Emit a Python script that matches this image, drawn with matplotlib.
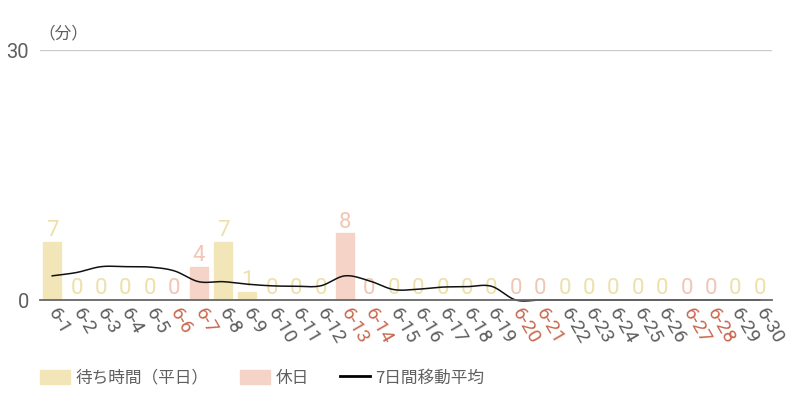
import numpy as np
import matplotlib
matplotlib.use("Agg")
import matplotlib.pyplot as plt
from matplotlib.patches import Patch
from matplotlib.lines import Line2D

# ---- data ----
days = [f"6-{d}" for d in range(1, 31)]
holidays = ["6-6", "6-7", "6-13", "6-14", "6-20", "6-21", "6-27", "6-28"]
wait_minutes = [7, 0, 0, 0, 0, 0, 4, 7, 1, 0, 0, 0, 8, 0, 0,
                0, 0, 0, 0, 0, 0, 0, 0, 0, 0, 0, 0, 0, 0, 0]
moving_avg = [2.9, 3.3, 4.0, 4.0, 3.95, 3.5, 2.2, 2.2, 1.9, 1.7, 1.65, 1.7, 2.9, 2.3, 1.25,
              1.3, 1.55, 1.6, 1.65, 0.0, 0.0, 0.0, 0.0, 0.0, 0.0, 0.0, 0.0, 0.0, 0.0, 0.0]
y_ticks = [0, 30]
legend_labels = ["待ち時間（平日）", "休日", "7日間移動平均"]

# ---- style ----
C_WEEK = "#F2E6B8"
C_HOL = "#F5D4C7"
C_WEEK_TXT = "#EEE0AA"
C_HOL_TXT = "#F0C6B5"
C_TICK = "#5f5f5f"
C_TICK_HOL = "#C8694F"
CJK = ["Noto Sans CJK JP", "DejaVu Sans"]

fig = plt.figure(figsize=(8, 4), dpi=100)
ax = fig.add_axes([40 / 800, 100 / 400, 732 / 800, 250 / 400])

x = np.arange(len(days))
is_hol = [d in holidays for d in days]
colors = [C_HOL if h else C_WEEK for h in is_hol]
ax.bar(x, wait_minutes, width=0.74, color=colors, edgecolor=colors,
       linewidth=1.0, zorder=2)

for xi, v, h in zip(x, wait_minutes, is_hol):
    ax.annotate(str(v), (xi, v), xytext=(0, 0.5), textcoords="offset points",
                ha="center", va="bottom", fontsize=16, family="Roboto",
                color=C_HOL_TXT if h else C_WEEK_TXT, zorder=3)

# smoothed moving-average line (Catmull-Rom through the data points)
def catmull_rom(xs, ys, n=24):
    xs = np.asarray(xs, float)
    ys = np.asarray(ys, float)
    m = np.zeros_like(ys)
    m[1:-1] = (ys[2:] - ys[:-2]) / 2.0
    m[0] = ys[1] - ys[0]
    m[-1] = ys[-1] - ys[-2]
    outx, outy = [], []
    for i in range(len(xs) - 1):
        t = np.linspace(0, 1, n, endpoint=False)
        h00 = 2 * t**3 - 3 * t**2 + 1
        h10 = t**3 - 2 * t**2 + t
        h01 = -2 * t**3 + 3 * t**2
        h11 = t**3 - t**2
        outx.append(xs[i] + t * (xs[i + 1] - xs[i]))
        outy.append(h00 * ys[i] + h10 * m[i] + h01 * ys[i + 1] + h11 * m[i + 1])
    outx.append([xs[-1]])
    outy.append([ys[-1]])
    return np.concatenate(outx), np.concatenate(outy)

sx, sy = catmull_rom(x, moving_avg)
ax.plot(sx, sy, color="#111111", lw=1.1, zorder=4, clip_on=False)

ax.set_xlim(-0.5, len(days) - 0.5)
ax.set_ylim(0, 30)
ax.set_yticks(y_ticks)
ax.set_yticklabels([str(t) for t in y_ticks], family="Roboto", fontsize=14.5, color=C_TICK)
ax.axhline(30, color="#cccccc", lw=1, zorder=1)
for s in ["top", "right", "left"]:
    ax.spines[s].set_visible(False)
ax.spines["bottom"].set_color("#666666")
ax.spines["bottom"].set_linewidth(1.3)
ax.spines["bottom"].set_zorder(5)
ax.tick_params(axis="y", length=0, pad=8)
ax.tick_params(axis="x", length=0, pad=7)

ax.set_xticks(x)
ax.set_xticklabels(days, rotation=-60, rotation_mode="anchor", ha="left", va="center",
                   family="Roboto", fontsize=14)
for lbl, h in zip(ax.get_xticklabels(), is_hol):
    lbl.set_color(C_TICK_HOL if h else C_TICK)

ax.text(-0.002, 1.03, "（分）", transform=ax.transAxes, ha="left", va="bottom",
        family=CJK, fontsize=12, color=C_TICK)

handles = [Patch(facecolor=C_WEEK, edgecolor=C_WEEK),
           Patch(facecolor=C_HOL, edgecolor=C_HOL),
           Line2D([0], [0], color="black", lw=2)]
fig.legend(handles, legend_labels, loc="center left", bbox_to_anchor=(40 / 800, 1 - 378 / 400),
           ncol=3, frameon=False, borderpad=0, borderaxespad=0,
           handlelength=1.8, handleheight=0.9, handletextpad=0.35, columnspacing=1.85,
           prop={"family": CJK, "size": 12}, labelcolor=C_TICK)

fig.savefig("out.png", dpi=100)
